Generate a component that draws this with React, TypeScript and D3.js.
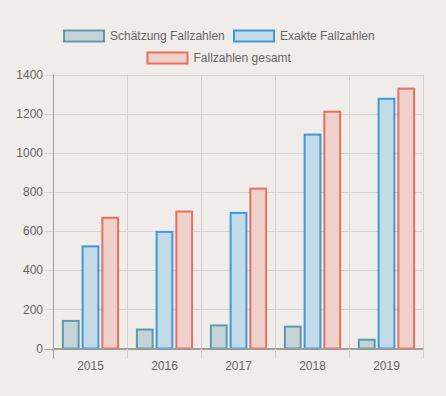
import React from "react";
import * as d3 from "d3";

const years = ["2015", "2016", "2017", "2018", "2019"];
const estimate = [146, 102, 123, 117, 50];
const exact = [527, 601, 698, 1098, 1281];
const total = [673, 705, 822, 1215, 1333];
const yTicks = [0, 200, 400, 600, 800, 1000, 1200, 1400];

const seriesNames = ["Schätzung Fallzahlen", "Exakte Fallzahlen", "Fallzahlen gesamt"];
const seriesData = [estimate, exact, total];
const fills = ["#c4d3d7", "#c3dbe7", "#efd1cc"];
const strokes = ["#5c9aac", "#3d98dc", "#e8705d"];

const W = 446;
const H = 396;
const left = 53.5;
const right = 423.5;
const top = 74.5;
const bottom = 348.5;
const font = "'Liberation Sans', Arial, Helvetica, sans-serif";
const textColor = "#666";

export default function App() {
  const x = d3.scaleBand().domain(years).range([left, right]).paddingInner(0).paddingOuter(0);
  const y = d3.scaleLinear().domain([0, 1400]).range([bottom, top]);
  const catW = x.bandwidth();
  const groupW = catW * 0.8;
  const slot = groupW / 3;
  const barW = slot * 0.9;

  return (
    <svg width={W} height={H} style={{ position: "absolute", left: 0, top: 0, background: "#f0ece9" }}>
      <rect x={0} y={0} width={W} height={H} fill="#f0ece9" />
      {/* horizontal gridlines */}
      {yTicks.map((t) => (
        <line key={"h" + t} x1={left - 9} x2={right} y1={Math.round(y(t)) + 0.5} y2={Math.round(y(t)) + 0.5}
          stroke={t === 0 ? "#a29e9a" : "#d7d2ce"} strokeWidth={1} />
      ))}
      {/* vertical gridlines */}
      {years.map((yr, i) => (
        <line key={"v" + yr} x1={x(yr)!} x2={x(yr)!} y1={top} y2={bottom + 10}
          stroke={i === 0 ? "#a29e9a" : "#d7d2ce"} strokeWidth={1} />
      ))}
      <line x1={right} x2={right} y1={top} y2={bottom + 10} stroke="#d7d2ce" strokeWidth={1} />
      {/* bars */}
      {seriesData.map((arr, si) =>
        arr.map((v, i) => {
          const bx = x(years[i])! + (catW - groupW) / 2 + si * slot + (slot - barW) / 2;
          const by = y(v);
          return (
            <rect key={si + "-" + i} x={bx + 1} y={by + 1} width={barW - 2} height={bottom - by - 1}
              fill={fills[si]} stroke={strokes[si]} strokeWidth={2} />
          );
        })
      )}
      {/* redraw axes on top */}
      <line x1={left} x2={right} y1={bottom} y2={bottom} stroke="#a29e9a" strokeWidth={1} />
      <line x1={left} x2={left} y1={top} y2={bottom + 10} stroke="#a29e9a" strokeWidth={1} />
      {/* y tick labels */}
      {yTicks.map((t) => (
        <text key={"yl" + t} x={43} y={y(t)} dy="0.35em" textAnchor="end" fontFamily={font} fontSize={12} fill={textColor}>
          {t}
        </text>
      ))}
      {/* x tick labels */}
      {years.map((yr) => (
        <text key={"xl" + yr} x={x(yr)! + catW / 2} y={370} textAnchor="middle" fontFamily={font} fontSize={12} fill={textColor}>
          {yr}
        </text>
      ))}
      {/* legend */}
      {[
        { i: 0, bx: 64, ty: 36 },
        { i: 1, bx: 234, ty: 36 },
        { i: 2, bx: 147.5, ty: 58 },
      ].map(({ i, bx, ty }) => (
        <g key={"lg" + i}>
          <rect x={bx} y={ty - 5.5} width={40} height={11} fill={fills[i]} stroke={strokes[i]} strokeWidth={2} />
          <text x={bx + 46} y={ty} dy="0.35em" fontFamily={font} fontSize={12} fill={textColor}>
            {seriesNames[i]}
          </text>
        </g>
      ))}
    </svg>
  );
}
